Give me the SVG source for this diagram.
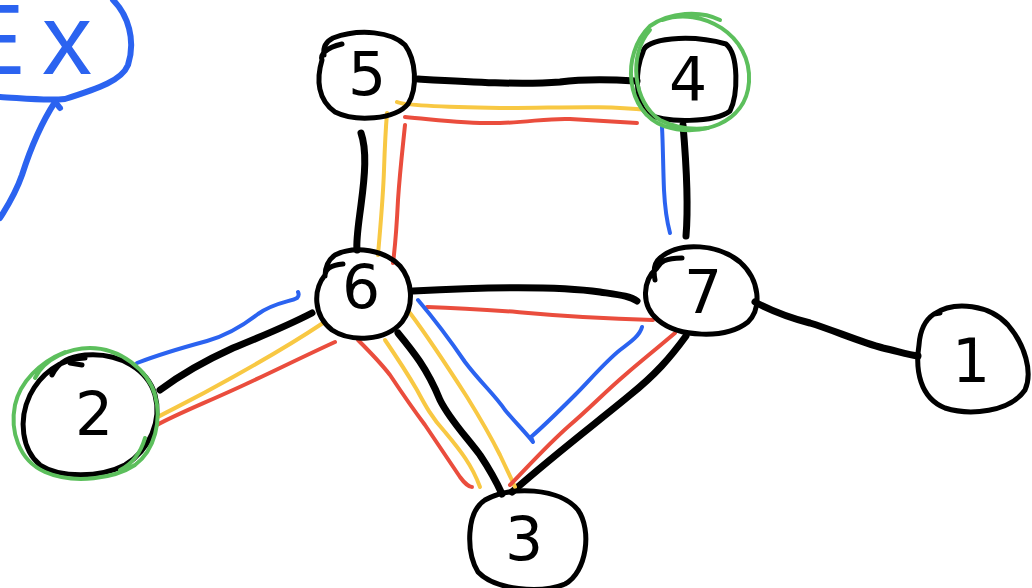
<svg xmlns="http://www.w3.org/2000/svg" width="1032" height="588" viewBox="0 0 1032 588">
<style>
.n{fill:none;stroke:#000;stroke-width:5;stroke-linecap:round;stroke-linejoin:round}
.k{fill:none;stroke:#000;stroke-width:7;stroke-linecap:round;stroke-linejoin:round}
.y{fill:none;stroke:#f8c843;stroke-width:4;stroke-linecap:round;stroke-linejoin:round}
.r{fill:none;stroke:#ea4d3d;stroke-width:4;stroke-linecap:round;stroke-linejoin:round}
.b{fill:none;stroke:#2b63f0;stroke-width:4;stroke-linecap:round;stroke-linejoin:round}
.g{fill:none;stroke:#5cbf5c;stroke-width:4;stroke-linecap:round;stroke-linejoin:round}
.bl{fill:none;stroke:#2b63f0;stroke-width:6;stroke-linecap:round;stroke-linejoin:round}
.t{font-family:"DejaVu Sans",sans-serif;font-size:60px;fill:#000;text-anchor:middle}
.ex{font-family:"Liberation Sans",sans-serif;font-size:100px;fill:#2b63f0}
</style>
<rect width="1032" height="588" fill="#fff"/>
<g id="note">
<path class="bl" d="M 113 0 C 128 15, 136 40, 128 65 C 122 80, 100 88, 65 99 C 45 101, 20 98, 0 97"/>
<path class="bl" d="M 55 102 C 40 125, 30 150, 22 175 C 15 195, 8 205, 0 218"/>
<path class="bl" d="M 56 103 L 60 108"/>
<text class="ex" x="-42" y="74">E</text>
<text class="ex" x="42" y="74">x</text>
</g>
<g id="connectors">
<path class="k" d="M 418 79 C 470 82, 520 85, 560 82 C 590 78, 620 80, 637 81"/>
<path class="k" d="M 361 133 C 367 150, 365 175, 361 205 C 358 228, 356 240, 357 250"/>
<path class="k" d="M 683 125 C 686 160, 689 200, 686 236"/>
<path class="k" d="M 413 291 C 470 288, 550 285, 600 292 C 620 295, 630 296, 637 301"/>
<path class="k" d="M 160 390 C 180 375, 200 363, 233 348 C 260 337, 285 327, 312 313"/>
<path class="k" d="M 398 333 C 412 350, 427 368, 440 400 C 450 420, 465 435, 480 455 C 490 470, 497 483, 502 494"/>
<path class="k" d="M 686 336 C 670 358, 655 375, 630 395 C 600 420, 560 450, 512 492"/>
<path class="k" d="M 755 302 C 770 310, 787 317, 810 323 C 833 330, 860 342, 883 348 C 900 352, 910 355, 918 356"/>
<path class="y" d="M 156 418 C 170 410, 187 403, 233 377 C 260 362, 290 345, 323 323"/>
<path class="y" d="M 385 340 C 400 362, 410 378, 417 390 C 425 405, 432 418, 445 432 C 460 450, 472 465, 480 487"/>
<path class="y" d="M 410 313 C 425 333, 440 355, 467 397 C 480 418, 490 435, 500 455 C 507 470, 512 480, 515 487"/>
<path class="y" d="M 378 255 C 380 230, 383 200, 384 170 C 385 140, 386 125, 387 113"/>
<path class="y" d="M 397 102 C 403 105, 440 107, 500 108 C 560 108, 600 105, 648 110"/>
<path class="r" d="M 157 425 C 175 415, 200 405, 233 390 C 260 378, 300 358, 335 342"/>
<path class="r" d="M 358 340 C 370 352, 380 362, 390 375 C 400 390, 410 405, 425 425 C 440 447, 450 462, 460 477 C 465 484, 470 487, 472 487"/>
<path class="r" d="M 427 307 C 460 308, 490 310, 517 312 C 550 315, 580 318, 653 320"/>
<path class="r" d="M 675 333 C 655 350, 640 362, 625 375 C 605 392, 590 408, 570 425 C 545 447, 525 470, 510 485"/>
<path class="r" d="M 393 263 C 396 240, 397 220, 398 200 C 400 170, 403 145, 405 125"/>
<path class="r" d="M 405 117 C 440 120, 470 124, 500 123 C 530 122, 550 118, 570 119 C 600 121, 620 122, 637 123"/>
<path class="b" d="M 137 363 C 150 358, 170 351, 207 341 C 225 336, 240 328, 258 314 C 275 302, 290 302, 297 298 C 299 296, 299 294, 298 292"/>
<path class="b" d="M 418 300 C 435 320, 450 340, 465 362 C 480 382, 495 395, 505 410 C 515 422, 525 432, 533 442 L 531 437 C 545 425, 560 410, 575 395 C 590 380, 605 362, 620 350 C 632 341, 640 335, 642 327"/>
<path class="b" d="M 662 127 C 663 145, 663 165, 664 190 C 665 210, 667 222, 670 233"/>
</g>
<g id="node5">
<path class="n" d="M 342 44 C 325 48, 320 55, 322 60 C 316 80, 318 100, 335 112 C 355 122, 395 120, 408 104 C 418 88, 416 60, 405 45 C 392 32, 360 28, 333 38 C 325 42, 323 48, 324 55"/>
<text class="t" x="367" y="95">5</text>
</g>
<g id="node4">
<path class="n" d="M 643 52 C 645 38, 690 34, 726 44 C 739 55, 738 95, 730 111 C 715 123, 665 123, 647 114 C 635 102, 635 70, 643 52 Z"/>
<path class="g" d="M 662 20 C 702 6, 752 35, 749 82 C 746 124, 700 138, 664 126 C 626 112, 620 55, 650 26 C 670 12, 700 10, 720 20"/>
<path class="g" d="M 650 30 C 628 55, 633 102, 660 120 C 680 130, 700 129, 708 128"/>
<text class="t" x="688" y="100">4</text>
</g>
<g id="node6">
<path class="n" d="M 343 264 C 330 265, 325 270, 325 275 C 313 290, 313 315, 332 330 C 350 342, 385 342, 402 322 C 415 305, 412 280, 400 266 C 385 250, 355 245, 335 255 C 328 260, 325 268, 325 276"/>
<text class="t" x="361" y="308">6</text>
</g>
<g id="node7">
<path class="n" d="M 682 258 C 665 258, 660 262, 657 268 C 643 280, 640 305, 658 320 C 678 337, 725 340, 748 322 C 762 308, 760 280, 740 262 C 720 245, 680 240, 660 258 C 655 262, 653 270, 655 280"/>
<text class="t" x="703" y="313">7</text>
</g>
<g id="node1">
<path class="n" d="M 934 314 C 925 320, 920 330, 919 345 C 915 370, 920 398, 945 408 C 970 416, 1010 412, 1025 390 C 1033 372, 1025 345, 1008 325 C 990 305, 955 300, 934 314 L 940 313"/>
<text class="t" x="971" y="382">1</text>
</g>
<g id="node2">
<path class="n" d="M 85 358 C 60 358, 40 375, 30 395 C 18 420, 22 450, 40 465 C 60 478, 100 478, 125 465 C 150 450, 162 420, 155 395 C 148 370, 120 352, 85 355 C 70 357, 60 360, 52 375"/>
<path class="n" d="M 70 363 L 82 365"/>
<path class="g" d="M 65 352 C 40 362, 20 382, 15 405 C 10 430, 18 460, 45 472 C 75 485, 115 478, 135 465 C 155 450, 162 420, 155 395 C 148 370, 120 348, 90 348 C 70 348, 45 358, 35 378 M 145 438 C 140 455, 130 465, 120 470"/>
<text class="t" x="94" y="435">2</text>
</g>
<g id="node3">
<path class="n" d="M 485 500 C 510 485, 560 488, 578 510 C 592 530, 587 572, 565 584 C 540 594, 495 590, 478 572 C 466 552, 466 512, 485 500 C 495 495, 505 492, 512 492"/>
<text class="t" x="524" y="560">3</text>
</g>
</svg>
